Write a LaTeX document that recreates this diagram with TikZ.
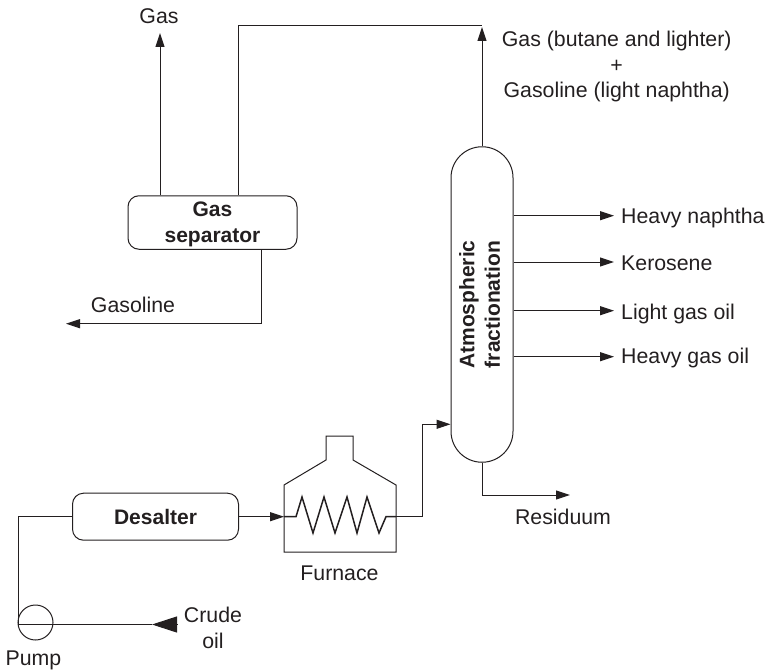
\documentclass[tikz,border=0pt]{standalone}
\usepackage{fontspec}
\setmainfont{Liberation Sans}
\usepackage{tikz}
\usetikzlibrary{arrows.meta,positioning,calc}
\definecolor{corlinha}{RGB}{35,31,32}

\begin{document}
\begin{tikzpicture}[
  x=1pt, y=-1pt,
  every node/.style={text=corlinha},
  rotulo/.style={font=\fontsize{21.3}{25.6}\selectfont, align=center, inner sep=0pt},
  vaso/.style={rectangle, draw=corlinha, line width=1pt, rounded corners=11pt,
               font=\fontsize{21}{26}\selectfont\bfseries, align=center, inner sep=0pt},
  linha/.style={draw=corlinha, line width=1pt},
  seta/.style={linha, -{Triangle[length=14pt,width=9pt]}},
  setagrande/.style={linha, -{Triangle[length=25pt,width=16pt]}}
]
  \useasboundingbox (0,0) rectangle (768,669);

  \node[vaso, minimum width=169pt, minimum height=53.5pt] (sep) at (212.5,222.5) {\rule{0pt}{18pt}Gas\\separator};
  \node[vaso, minimum width=166pt, minimum height=47pt] (desalter) at (155.5,516.7) {Desalter};
  \node[vaso, rounded corners=31pt, minimum width=62pt, minimum height=315.5pt] (col) at (482,304.5) {};
  \node[rotate=90, font=\fontsize{21}{25.5}\selectfont\bfseries, align=center, inner sep=0pt] (coltexto) at (479.5,304.5) {Atmospheric\\fractionation};
  \node[circle, draw=corlinha, line width=1pt, minimum size=35pt, inner sep=0pt] (pump) at (35.5,622.5) {};

  \coordinate (furnin) at (284,516.7);
  \coordinate (furnout) at (396,516.7);
  \coordinate (gastopo) at (160,33);
  \coordinate (gastopolinha) at (238.7,25.5);
  \coordinate (coltopo) at (482,27);
  \coordinate (gasolinaponta) at (66,323.7);
  \coordinate (colentra) at (422.7,424.3);
  \coordinate (resvira) at (482,495);
  \coordinate (responta) at (570,495);
  \coordinate (crudein) at (177,624.5);
  \coordinate (crudeponta) at (152,624.5);
  \coordinate (pumpvira) at (18,624.5);

  % forno
  \draw[linha] (furnin) -- (284,552) -- (396,552) -- (furnout) -- (396,485) -- (353,460) -- (353,436)
    -- (326,436) -- (326,460) -- (284,485) -- cycle;
  \draw[corlinha, line width=1.5pt] (furnin) -- (296,516.7) -- (302,497) -- (313,533) -- (324,497) -- (335,533)
    -- (347,497) -- (357,533) -- (367,497) -- (379,533) -- (386,516.7) -- (furnout);

  % correntes
  \draw[setagrande] (crudein) -- (crudeponta);
  \draw[linha] (crudeponta) -- (pumpvira) |- (desalter.west);
  \draw[seta] (desalter.east) -- (furnin);
  \draw[seta] (furnout) -| (colentra) -- (col.west |- colentra);
  \draw[seta] (col.north) -- (coltopo);
  \draw[linha] (sep.north -| gastopolinha) -- (gastopolinha) -- (gastopolinha -| coltopo);
  \draw[seta] (sep.north -| gastopo) -- (gastopo);
  \draw[seta] (sep.south -| 261.7,0) |- (gasolinaponta);
  \draw[seta] (col.south) -- (resvira) -- (responta);
  \foreach \ypos/\base/\nome/\texto in {215.7/223/hnaf/Heavy naphtha, 262/270.7/ker/Kerosene,
                                        310.7/319/lgo/Light gas oil, 356.7/363/hgo/Heavy gas oil} {
    \coordinate (\nome) at (614,\ypos);
    \draw[seta] (col.east |- \nome) -- (\nome);
    \node[rotulo, anchor=base west] (t\nome) at (621,\base) {\texto};
  }

  % rotulos
  \node[rotulo, anchor=base] (tgas) at (159,24) {Gas};
  \node[rotulo, anchor=base] (tgasolina) at (133,312) {Gasoline};
  \node[rotulo] (ttopo) at (616.7,66.5) {Gas (butane and lighter)\\+\\Gasoline (light naphtha)};
  \node[rotulo, anchor=base] (tres) at (563,524) {Residuum};
  \node[rotulo, anchor=base] (tfurn) at (339.5,580.7) {Furnace};
  \node[rotulo] (tcrude) at (213,628) {Crude\\oil};
  \node[rotulo, anchor=base] (tpump) at (33.5,665) {Pump};
\end{tikzpicture}
\end{document}
